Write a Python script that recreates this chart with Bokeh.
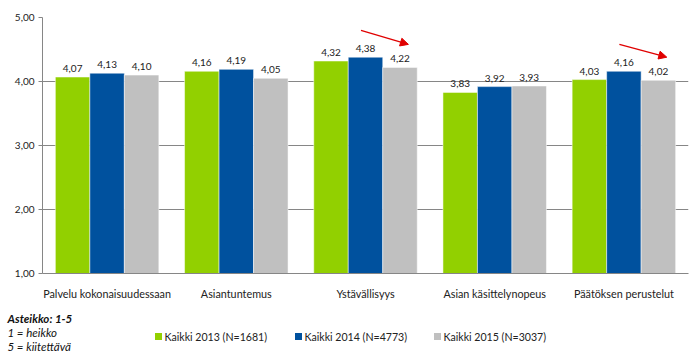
from bokeh.plotting import figure
from bokeh.layouts import column
from bokeh.models import (FactorRange, ColumnDataSource, Range1d, FixedTicker,
                          Arrow, NormalHead)
from bokeh.transform import dodge
from bokeh.embed import file_html
from bokeh.resources import INLINE
from bokeh.core.properties import value

categories = ["Palvelu kokonaisuudessaan", "Asiantuntemus", "Ystävällisyys",
              "Asian käsittelynopeus", "Päätöksen perustelut"]
series_names = ["Kaikki 2013 (N=1681)", "Kaikki 2014 (N=4773)", "Kaikki 2015 (N=3037)"]
v2013 = [4.07, 4.16, 4.32, 3.83, 4.03]
v2014 = [4.13, 4.19, 4.38, 3.92, 4.16]
v2015 = [4.10, 4.05, 4.22, 3.93, 4.02]
colors = ["#92D000", "#00519E", "#C0C0C0"]
y_ticks = [1, 2, 3, 4, 5]
scale_notes = ["Asteikko: 1-5", "1 = heikko", "5 = kiitettävä"]
arrow_cats = ["Ystävällisyys", "Päätöksen perustelut"]

FONT = "Lato"
TXT = "#222222"

p = figure(x_range=FactorRange(*categories), y_range=(1, 5), width=700, height=302,
           output_backend="svg", toolbar_location=None,
           min_border_left=42, min_border_right=12, min_border_top=17, min_border_bottom=27)
p.outline_line_color = None

src = ColumnDataSource(dict(cat=categories, v2013=v2013, v2014=v2014, v2015=v2015,
                            l2013=[f"{v:.2f}".replace(".", ",") for v in v2013],
                            l2014=[f"{v:.2f}".replace(".", ",") for v in v2014],
                            l2015=[f"{v:.2f}".replace(".", ",") for v in v2015]))

bw = 0.267
for i, key in enumerate(["2013", "2014", "2015"]):
    off = (i - 1) * bw
    p.vbar(x=dodge("cat", off, range=p.x_range), top="v" + key, bottom=1, width=bw,
           source=src, fill_color=colors[i], line_color="white", line_width=0.5)
    p.text(x=dodge("cat", off, range=p.x_range), y="v" + key, text="l" + key, source=src,
           text_align="center", text_baseline="bottom", y_offset=-5,
           text_font=value(FONT), text_font_size="10px", text_color=TXT)

# axes
p.yaxis.ticker = FixedTicker(ticks=y_ticks)
p.yaxis.major_label_overrides = {t: f"{t:.2f}".replace(".", ",") for t in y_ticks}
p.yaxis.axis_line_color = "#868686"
p.yaxis.major_tick_line_color = "#868686"
p.yaxis.major_tick_out = 4
p.yaxis.major_tick_in = 0
p.yaxis.minor_tick_line_color = None
p.yaxis.major_label_text_font = FONT
p.yaxis.major_label_text_font_size = "10px"
p.yaxis.major_label_text_color = TXT
p.yaxis.major_label_standoff = 4

p.xaxis.axis_line_color = "#868686"
p.xaxis.major_tick_line_color = None
p.xaxis.major_label_text_font = FONT
p.xaxis.major_label_text_font_size = "10.8px"
p.xaxis.major_label_text_color = TXT
p.xaxis.major_label_standoff = 7

p.xgrid.grid_line_color = None
p.ygrid.grid_line_color = "#868686"
p.ygrid.grid_line_width = 1

# arrows (from above the 2014 bar to above the 2015 bar)
for c in arrow_cats:
    i = categories.index(c)
    xc = i + 0.5
    p.add_layout(Arrow(x_start=xc - 0.035, y_start=v2014[i] + 0.42,
                       x_end=xc + bw + 0.065, y_end=v2015[i] + 0.36,
                       line_color="#E00000", line_width=1.3,
                       end=NormalHead(size=8, fill_color="#E00000", line_color="#E00000")))

# bottom strip: scale notes and legend (page-pixel coordinates)
H_TOP = 302
p2 = figure(width=700, height=58, x_range=Range1d(0, 700), y_range=Range1d(360, H_TOP),
            output_backend="svg", toolbar_location=None,
            min_border_left=0, min_border_right=0, min_border_top=0, min_border_bottom=0)
p2.axis.visible = False
p2.grid.grid_line_color = None
p2.outline_line_color = None

note_x = [7, 7, 7]
note_y = [318, 332, 346]
for i, t in enumerate(scale_notes):
    p2.text(x=[note_x[i]], y=[note_y[i]], text=[t], text_font=value(FONT),
            text_font_size="11.5px", text_baseline="middle", text_color="#111111",
            text_font_style="bold italic" if i == 0 else "italic")

leg_x = [158, 298, 437]
leg_y = [336, 336, 336]
p2.scatter(x=leg_x, y=leg_y, marker="square", size=7, fill_color=colors, line_color=None)
p2.text(x=[x + 6 for x in leg_x], y=leg_y, text=series_names, text_font=value(FONT),
        text_font_size="10.6px", text_baseline="middle", text_color=TXT)

layout = column(p, column(p2, spacing=0), spacing=0)
open("out.html", "w").write(file_html(layout, INLINE))
